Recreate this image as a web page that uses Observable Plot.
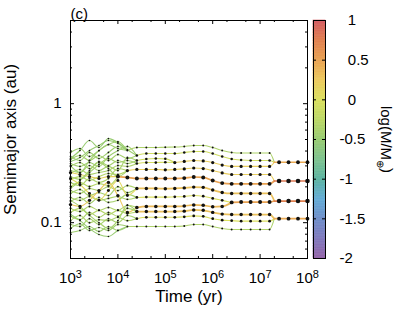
<!DOCTYPE html>
<html><head><meta charset="utf-8">
<script src="https://cdn.jsdelivr.net/npm/d3@7"></script>
<script src="https://cdn.jsdelivr.net/npm/@observablehq/plot@0.6"></script>
<style>
html,body{margin:0;padding:0;background:#fff;}
#wrap{position:relative;width:403px;height:320px;overflow:hidden;background:#fff;}
#wrap svg{position:absolute;left:0;top:0;}
</style></head>
<body><div id="wrap"></div>
<script>
// ---------- data ----------
const logTimeGrid = [3.0,3.2,3.4,3.6,3.8,4.0,4.2,4.4,4.6,4.8,5.0,5.2,5.4,5.6,5.8,6.0,6.2,6.4,6.6,6.8,7.0,7.2,7.4,7.6,7.8,8.0];

// semimajor axis (au) of each body at consecutive grid times, starting at its first grid index
const aE01 = [.389,.420,.360,.404,.454,.420];
const aE02 = [.360,.333,.389,.346,.389,.437];
const aE03 = [.327,.353,.404,.445,.490,.463];
const aE04 = [.340,.367,.333,.367,.333,.374,.346];
const aE05 = [.314,.297,.320,.297,.360,.404,.437];
const aE06 = [.297,.320,.285,.327,.302,.333,.314];
const aE07 = [.274,.264,.302,.274,.297,.274,.353];
const aE08 = [.259,.280,.254,.264,.274,.302,.297];
const aE09 = [.244,.231,.264,.308,.346,.320,.333];
const aE10 = [.231,.244,.226,.244,.259,.254];
const aE11 = [.218,.205,.235,.218,.235,.285];
const aE12 = [.264,.254,.244,.235,.244];
const aE13 = [.201,.218,.201,.213,.205];
const aE14 = [.186,.176,.194,.186,.201,.186,.205];
const aE15 = [.176,.190,.169,.179,.169,.201,.179];
const aE16 = [.163,.154,.166,.154,.160,.166,.157];
const aE17 = [.151,.163,.145,.163,.148,.154,.173];
const aE18 = [.142,.137,.154,.186,.218,.169,.122];
const aE19 = [.132,.124,.137,.127,.134,.127,.140];
const aE20 = [.122,.132,.117,.127,.117,.127,.119];
const aE21 = [.113,.106,.122,.111,.122,.113,.132];
const aE22 = [.104,.115,.100,.106,.104,.111,.104];
const aE23 = [.0965,.0929,.108,.0965,.108,.100,.115];
const aE24 = [.0894,.098,.086,.0911,.086,.0965];
const aE25 = [.0827,.086,.0929,.0844,.0929,.086];
const aX1 = [.346,.404,.490,.428,.509,.472];
const aX2 = [.302,.264,.333,.404,.454,.481,.412];
const aX3 = [.194,.226,.274,.320,.285,.244];
const aX4 = [.235,.209,.176,.154,.186,.226,.169];
const aX5 = [.154,.137,.115,.100,.0894,.104,.140];
const aX6 = [.117,.104,.0894,.0795,.0765,.086];

const aM1  = [.404,.428,.428,.428,.431,.432,.437,.445,.445,.428,.404,.389,.385,.385,.385,.385];
const aM2  = [.367,.381,.381,.381,.381,.389,.396,.396,.381,.360,.343,.336,.333,.333,.333];
const aM3  = [.333,.343,.346,.344];
const aM4  = [.314,.320,.320,.322];
const aN34 = [.320,.327,.333,.330,.320,.305,.297,.297,.297,.297,.297];
const aM5  = [.274,.280,.280,.280,.278,.280,.283,.288,.285,.274,.262,.254,.254,.254,.254,.254];
const aM6  = [.244,.240,.235,.235,.235,.235,.235,.237,.242,.240,.226,.215,.212,.212,.212,.212,.212];
const aM7  = [.194,.194,.194,.193,.194,.196,.199,.198,.188,.179,.176,.176,.176,.176,.176];
const aM8  = [.163,.164,.164,.164,.165,.166,.169,.167,.160,.154];
const aM9  = [.134,.137,.137,.137,.137,.138,.141,.140,.136,.137];
const aN89 = [.148,.149,.149,.149,.149];
const aM10 = [.124,.124,.124,.124,.124,.125,.128,.127,.122,.118,.117,.117,.117,.117,.117];
const aM11 = [.108,.111,.111,.111,.111,.112,.114,.113,.108,.105,.104,.103,.103,.103,.103];
const aM12 = [.0929,.0929,.0929,.0929,.0929,.0929,.0938,.0965,.0965,.0929,.0894,.0877,.0877,.0877,.0877,.0877];

const aF1 = [.322,.322,.322,.322];
const aF2 = [.224,.224,.224,.224];
const aF3 = [.152,.152,.152,.152];
const aF4 = [.108,.108,.108,.108];

// [id, a-values, first grid index, log(M/Mearth), merges into, log time of the merger that formed it]
const bodies = [
  ["E01", aE01, 0, -0.45, "M1", null], ["E02", aE02, 0, -0.45, "M1", null], ["E03", aE03, 0, -0.5, "M1", null],
  ["E04", aE04, 0, -0.4, "M2", null], ["E05", aE05, 0, -0.45, "M2", null],
  ["E06", aE06, 0, -0.4, "M3", null], ["E07", aE07, 0, -0.4, "M3", null],
  ["E08", aE08, 0, -0.35, "M4", null], ["E09", aE09, 0, -0.4, "M4", null],
  ["E10", aE10, 0, -0.3, "M5", null], ["E11", aE11, 0, -0.35, "M5", null],
  ["E12", aE12, 0, 0.15, "M6", null], ["E13", aE13, 0, -0.3, "M6", null],
  ["E14", aE14, 0, -0.35, "M7", null], ["E15", aE15, 0, -0.4, "M7", null],
  ["E16", aE16, 0, -0.35, "M8", null], ["E17", aE17, 0, -0.4, "M8", null],
  ["E18", aE18, 0, 0.25, "M9", null], ["E19", aE19, 0, -0.35, "M9", null],
  ["E20", aE20, 0, -0.3, "M10", null], ["E21", aE21, 0, -0.35, "M10", null],
  ["E22", aE22, 0, -0.35, "M11", null], ["E23", aE23, 0, -0.4, "M11", null],
  ["E24", aE24, 0, -0.45, "M12", null], ["E25", aE25, 0, -0.45, "M12", null],
  ["X1", aX1, 0, -0.5, "M1", null], ["X2", aX2, 0, -0.45, "M2", null], ["X3", aX3, 0, -0.4, "M5", null],
  ["X4", aX4, 0, 0.1, "M7", null], ["X5", aX5, 0, -0.4, "M10", null], ["X6", aX6, 0, -0.5, "M12", null],
  ["M1", aM1, 6, -0.35, "F1", null], ["M2", aM2, 7, -0.1, "F1", null],
  ["M3", aM3, 7, -0.1, "N34", null], ["M4", aM4, 7, -0.05, "N34", null], ["N34", aN34, 11, 0.2, "F1", null],
  ["M5", aM5, 6, 0.2, "F2", null], ["M6", aM6, 5, 0.5, "F2", null],
  ["M7", aM7, 7, 0.3, "F3", null], ["M8", aM8, 7, 0.0, "N89", null], ["M9", aM9, 7, 0.35, "N89", null],
  ["N89", aN89, 17, 0.5, "F3", null],
  ["M10", aM10, 7, 0.3, "F4", null], ["M11", aM11, 7, 0.0, "F4", null], ["M12", aM12, 6, -0.35, "F4", null],
  ["F1", aF1, 22, 0.45, null, 7.3], ["F2", aF2, 22, 0.8, null, 7.3],
  ["F3", aF3, 22, 0.75, null, 7.3], ["F4", aF4, 22, 0.45, null, 7.3]
];

const xMajor = [1e3,1e4,1e5,1e6,1e7,1e8];
const xMinor = [2e3,5e3,2e4,5e4,2e5,5e5,2e6,5e6,2e7,5e7];
const yMajor = [0.1, 1];
const yMinor = [0.05,0.06,0.07,0.08,0.09,0.2,0.3,0.4,0.5,0.6,0.7,0.8,0.9,2,3,4,5];
const cbTicks = [-2,-1.5,-1,-0.5,0,0.5,1];
const cbStops  = [-2, -1.75, -1.5, -1.25, -1, -0.75, -0.5, -0.25, 0, 0.25, 0.5, 0.75, 1];
const cbColors = ["#9564a9","#8079bd","#6f8fca","#64acd6","#5cb4a2","#7fc38f","#98cc72","#bcd866","#dbe05e","#ecc95e","#e9a252","#e0804f","#d35a62"];
const xTitle = "Time (yr)";
const yTitle = "Semimajor axis (au)";
const cbTitle = "log(M/M⊕)";
const panelTag = "(c)";

// ---------- build ----------
const byId = new Map(bodies.map(b => [b[0], b]));
const linePts = [], dotPts = [];
for (const [id, a, k0, m, into, born] of bodies) {
  const pts = [];
  if (born != null) pts.push({t: 10 ** born, a: a[0]});
  a.forEach((v, i) => { const p = {t: 10 ** logTimeGrid[k0 + i], a: v}; pts.push(p); dotPts.push(p); });
  if (into) {
    const tg = byId.get(into);
    const tb = tg[5] != null ? tg[5] : logTimeGrid[tg[2]];
    pts.push({t: 10 ** tb, a: tg[1][0]});
  }
  pts.forEach(p => { p.id = id; p.m = m; linePts.push(p); });
}

const FONT = '"Liberation Sans", Arial, Helvetica, sans-serif';
const W = 403, H = 320, mL = 70, mR = 96, mT = 20, mB = 62;
const pw = W - mL - mR, ph = H - mT - mB;
const colorScale = {type: "linear", domain: cbStops, range: cbColors, clamp: true};

const main = Plot.plot({
  width: W, height: H, marginLeft: mL, marginRight: mR, marginTop: mT, marginBottom: mB,
  style: {fontFamily: FONT, fontSize: "15px", color: "#000", background: "transparent"},
  x: {type: "log", domain: [1e3, 1e8], axis: null},
  y: {type: "log", domain: [0.05, 5], axis: null},
  color: colorScale,
  r: {type: "linear", domain: [-0.5, 0.8], range: [0.8, 2.3], clamp: true},
  marks: [
    Plot.line(linePts.filter(d => d.m < 0.3), {x: "t", y: "a", z: "id", stroke: "m", strokeWidth: 1.1, curve: "monotone-x"}),
    Plot.line(linePts.filter(d => d.m >= 0.3), {x: "t", y: "a", z: "id", stroke: "m", strokeWidth: 1.7, curve: "monotone-x"}),
    Plot.dot(dotPts, {x: "t", y: "a", r: "m", fill: "#111", stroke: null}),
    Plot.frame({stroke: "#000", strokeWidth: 1}),
    Plot.tickX(xMajor, {x: d => d, insetTop: ph - 4, stroke: "#000"}),
    Plot.tickX(xMajor, {x: d => d, insetBottom: ph - 4, stroke: "#000"}),
    Plot.tickX(xMinor, {x: d => d, insetTop: ph - 2, stroke: "#000"}),
    Plot.tickX(xMinor, {x: d => d, insetBottom: ph - 2, stroke: "#000"}),
    Plot.tickY(yMajor, {y: d => d, insetRight: pw - 4, stroke: "#000"}),
    Plot.tickY(yMajor, {y: d => d, insetLeft: pw - 4, stroke: "#000"}),
    Plot.tickY(yMinor, {y: d => d, insetRight: pw - 2, stroke: "#000"}),
    Plot.tickY(yMinor, {y: d => d, insetLeft: pw - 2, stroke: "#000"}),
    Plot.axisX({ticks: xMajor, tickSize: 0, tickPadding: 14, label: null,
      tickFormat: d => "10^" + Math.round(Math.log10(d))}),
    Plot.axisY({ticks: yMajor, tickSize: 0, tickPadding: 9, label: null, tickFormat: d => String(d)}),
    Plot.text([xTitle], {frameAnchor: "bottom", dy: 43, textAnchor: "middle", fontSize: 17, text: d => d}),
    Plot.text([yTitle], {frameAnchor: "left", dx: -60, rotate: -90, textAnchor: "middle", fontSize: 17, text: d => d}),
    Plot.text([panelTag], {frameAnchor: "top-left", dy: -12, textAnchor: "start", text: d => d})
  ]
});

const step = 0.02;
const cbBands = d3.range(-2, 1 - 1e-9, step);
const cb = Plot.plot({
  width: W, height: H, marginLeft: 313, marginRight: 78, marginTop: mT, marginBottom: mB,
  style: {fontFamily: FONT, fontSize: "15px", color: "#000", background: "transparent"},
  x: {domain: [0, 1], axis: null},
  y: {domain: [-2, 1], axis: null},
  color: colorScale,
  marks: [
    Plot.rect(cbBands, {x1: d => 0, x2: d => 1, y1: d => d, y2: d => d + step,
      fill: d => d + step / 2, stroke: d => d + step / 2, strokeWidth: 0.6}),
    Plot.tickY(cbTicks, {y: d => d, insetRight: 9, stroke: "#000"}),
    Plot.tickY(cbTicks, {y: d => d, insetLeft: 9, stroke: "#000"}),
    Plot.frame({stroke: "#000", strokeWidth: 1}),
    Plot.axisY({anchor: "right", ticks: cbTicks, tickSize: 0, tickPadding: 14, label: null,
      tickFormat: d => (d >= 0 ? "\u2007" + d : "-" + Math.abs(d))}),
    Plot.text([cbTitle], {frameAnchor: "right", dx: 60, rotate: 90, textAnchor: "middle", text: d => d})
  ]
});

const wrap = document.getElementById("wrap");
wrap.appendChild(main);
wrap.appendChild(cb);

// superscript exponents on the time axis
d3.select(main).selectAll("text").each(function () {
  const s = this.textContent;
  const m = /^10\^(\d+)$/.exec(s);
  if (m) {
    const t = d3.select(this);
    t.text("10");
    t.append("tspan").attr("dy", "-0.45em").style("font-size", "11px").text(m[1]);
  }
});
// subscript Earth symbol in the colour-bar title
d3.select(cb).selectAll("text").each(function () {
  if (this.textContent === cbTitle) {
    const t = d3.select(this);
    t.text("log(M/M");
    t.append("tspan").attr("dy", "0.35em").style("font-size", "10px").text("⊕");
    t.append("tspan").attr("dy", "-0.35em").text(")");
  }
});
</script>
</body></html>
